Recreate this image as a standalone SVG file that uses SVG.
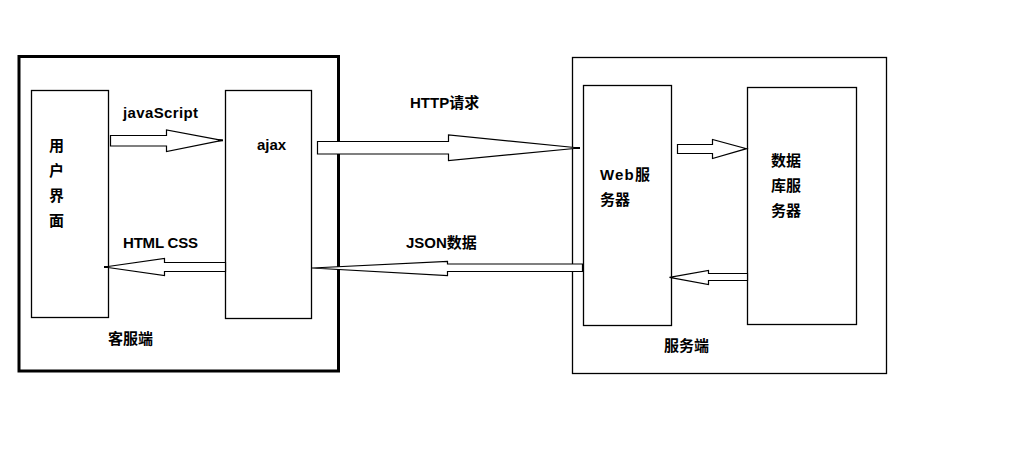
<svg xmlns="http://www.w3.org/2000/svg" width="1013" height="467" viewBox="0 0 1013 467">
<style>
.box{fill:none;stroke:#000;stroke-width:1.3}
.arr{fill:#fff;stroke:#000;stroke-width:1.2;stroke-linejoin:miter}
.t{font-family:"Liberation Sans","Noto Sans CJK SC",sans-serif;font-weight:bold;font-size:15px;fill:#000}
</style>
<rect width="1013" height="467" fill="#fff"/>
<g id="client">
<rect x="19" y="56.5" width="319.5" height="314.5" fill="none" stroke="#000" stroke-width="3"/>
<text class="t" x="108" y="344">客服端</text>
</g>
<g id="ui">
<rect class="box" x="31.5" y="90.5" width="77" height="227"/>
<text class="t" x="49" y="151">用</text>
<text class="t" x="49" y="176">户</text>
<text class="t" x="49" y="201">界</text>
<text class="t" x="49" y="226">面</text>
</g>
<g id="ajax">
<rect class="box" x="225.5" y="90.5" width="86" height="228"/>
<text class="t" x="257" y="150">ajax</text>
</g>
<g id="server">
<rect class="box" x="572.5" y="57.5" width="314" height="316"/>
<text class="t" x="664" y="351">服务端</text>
</g>
<g id="web">
<rect class="box" x="583.5" y="85.5" width="88" height="240"/>
<text class="t" x="600" y="180" textLength="50">Web服</text>
<text class="t" x="600" y="205">务器</text>
</g>
<g id="db">
<rect class="box" x="747.5" y="87.5" width="109" height="237"/>
<text class="t" x="771" y="166">数据</text>
<text class="t" x="771" y="191">库服</text>
<text class="t" x="771" y="216">务器</text>
</g>
<g id="connectors">
<polygon class="arr" points="110.5,135.5 166.5,135.5 166.5,130 222,140.3 166.5,151.5 166.5,146 110.5,146"/>
<line x1="218" y1="140.3" x2="223" y2="140.3" stroke="#000" stroke-width="2"/>
<text class="t" x="123" y="118" textLength="75">javaScript</text>
<polygon class="arr" points="225.5,262.5 164.5,262.5 164.5,258.5 104.5,267 164.5,275.5 164.5,271.5 225.5,271.5"/>
<line x1="104" y1="267" x2="109" y2="267" stroke="#000" stroke-width="2"/>
<text class="t" x="123" y="247.5" textLength="75">HTML CSS</text>
<polygon class="arr" points="317.5,141.5 448.5,141.5 448.5,135 579.5,148 448.5,160.5 448.5,154 317.5,154"/>
<line x1="574" y1="148" x2="580" y2="148" stroke="#000" stroke-width="2"/>
<text class="t" x="410" y="107.5">HTTP请求</text>
<polygon class="arr" points="582.5,264 447.5,264 447.5,261.5 312,268 447.5,275.5 447.5,271.5 582.5,271.5"/>
<text class="t" x="406" y="247.5">JSON数据</text>
<polygon class="arr" points="677.5,144.5 712.5,144.5 712.5,139.5 746.5,148.7 712.5,158.5 712.5,153.5 677.5,153.5"/>
<polygon class="arr" points="747.5,273.5 708.5,273.5 708.5,270.5 669.5,277.3 708.5,284.5 708.5,280.5 747.5,280.5"/>
</g>
</svg>
